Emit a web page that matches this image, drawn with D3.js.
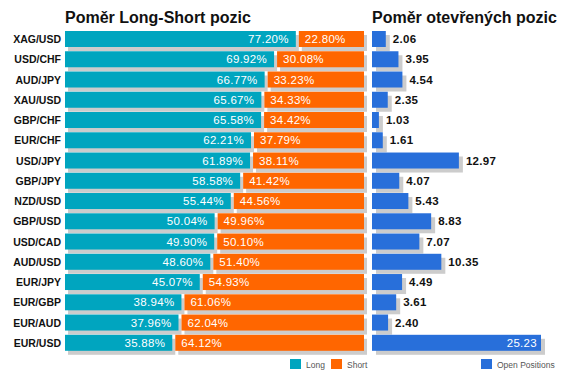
<!DOCTYPE html>
<html><head><meta charset="utf-8">
<script src="https://cdn.jsdelivr.net/npm/d3@7"></script>
<style>body{margin:0;background:#fff;} svg{display:block;font-family:Arial,"Liberation Sans",sans-serif;}</style>
</head><body>
<svg id="c" width="568" height="379"></svg>
<script>
const pairs = ["XAG/USD","USD/CHF","AUD/JPY","XAU/USD","GBP/CHF","EUR/CHF","USD/JPY","GBP/JPY","NZD/USD","GBP/USD","USD/CAD","AUD/USD","EUR/JPY","EUR/GBP","EUR/AUD","EUR/USD"];
const longPct = [77.20,69.92,66.77,65.67,65.58,62.21,61.89,58.58,55.44,50.04,49.90,48.60,45.07,38.94,37.96,35.88];
const shortPct = [22.80,30.08,33.23,34.33,34.42,37.79,38.11,41.42,44.56,49.96,50.10,51.40,54.93,61.06,62.04,64.12];
const openPos = [2.06,3.95,4.54,2.35,1.03,1.61,12.97,4.07,5.43,8.83,7.07,10.35,4.49,3.61,2.40,25.23];
const titles = ["Poměr Long-Short pozic","Poměr otevřených pozic"];
const legendLabels = ["Long","Short","Open Positions"];

const svg = d3.select("#c");
const C = {long:"#00a5bf", short:"#ff6600", open:"#286fda", shadow:"#cccccc"};
const y = d3.scaleBand().domain(pairs).range([31,351]).paddingInner(0.2).paddingOuter(0);
const bh = 16;
const xL = d3.scaleLinear().domain([0,100]).range([65,364]);
const xR = d3.scaleLinear().domain([0,25.23]).range([372,541]);
const gap = 3, sh = 3;

// titles
svg.append("text").attr("x",65).attr("y",22.5).attr("font-size",16).attr("font-weight","bold").attr("fill","#111").text(titles[0]);
svg.append("text").attr("x",372).attr("y",22.5).attr("font-size",16).attr("font-weight","bold").attr("fill","#111").text(titles[1]);

// category labels
svg.append("g").selectAll("text").data(pairs).join("text")
  .attr("x",61).attr("y",d=>y(d)+bh/2+4).attr("text-anchor","end")
  .attr("font-size",10.5).attr("font-weight","bold").attr("fill","#111").text(d=>d);

const rows = pairs.map((p,i)=>({p, l:longPct[i], s:shortPct[i], o:openPos[i]}));
const gL = svg.append("g");
// shadows
gL.selectAll(".shl").data(rows).join("rect")
  .attr("x",xL(0)+sh).attr("y",d=>y(d.p)+sh+1).attr("width",d=>xL(d.l)-xL(0)).attr("height",bh).attr("fill",C.shadow);
gL.selectAll(".shs").data(rows).join("rect")
  .attr("x",d=>xL(d.l)+gap+sh).attr("y",d=>y(d.p)+sh+1).attr("width",d=>xL(100)-xL(d.l)-gap).attr("height",bh).attr("fill",C.shadow);
gL.selectAll(".bl").data(rows).join("rect")
  .attr("x",xL(0)).attr("y",d=>y(d.p)).attr("width",d=>xL(d.l)-xL(0)).attr("height",bh).attr("fill",C.long);
gL.selectAll(".bs").data(rows).join("rect")
  .attr("x",d=>xL(d.l)+gap).attr("y",d=>y(d.p)).attr("width",d=>xL(100)-xL(d.l)-gap).attr("height",bh).attr("fill",C.short);
gL.selectAll(".tl").data(rows).join("text")
  .attr("x",d=>xL(d.l)-7).attr("y",d=>y(d.p)+bh/2+4).attr("text-anchor","end")
  .attr("font-size",11.5).attr("fill","#fff").attr("letter-spacing",0.3).text(d=>d.l.toFixed(2)+"%");
gL.selectAll(".ts").data(rows).join("text")
  .attr("x",d=>xL(d.l)+gap+6).attr("y",d=>y(d.p)+bh/2+4)
  .attr("font-size",11.5).attr("fill","#fff").attr("letter-spacing",0.3).text(d=>d.s.toFixed(2)+"%");

const gR = svg.append("g");
gR.selectAll(".sho").data(rows).join("rect")
  .attr("x",xR(0)+sh+1).attr("y",d=>y(d.p)+sh+1).attr("width",d=>xR(d.o)-xR(0)).attr("height",bh).attr("fill",C.shadow);
gR.selectAll(".bo").data(rows).join("rect")
  .attr("x",xR(0)).attr("y",d=>y(d.p)).attr("width",d=>xR(d.o)-xR(0)).attr("height",bh).attr("fill",C.open);
const maxO = d3.max(openPos);
gR.selectAll(".to").data(rows).join("text")
  .attr("x",d=>d.o===maxO ? xR(d.o)-4 : xR(d.o)+7)
  .attr("y",d=>y(d.p)+bh/2+4)
  .attr("text-anchor",d=>d.o===maxO?"end":"start")
  .attr("font-size",11.5).attr("font-weight",d=>d.o===maxO?"normal":"bold")
  .attr("fill",d=>d.o===maxO?"#fff":"#111").attr("letter-spacing",0.3)
  .text(d=>d.o.toFixed(2));

// legend
const leg = [{t:legendLabels[0],c:C.long,x:290},{t:legendLabels[1],c:C.short,x:331},{t:legendLabels[2],c:C.open,x:481}];
const gLeg = svg.append("g");
leg.forEach(d=>{
  gLeg.append("rect").attr("x",d.x).attr("y",359).attr("width",11).attr("height",10).attr("fill",d.c);
  gLeg.append("text").attr("x",d.x+16).attr("y",367.5).attr("font-size",8.5).attr("fill","#555").text(d.t);
});
</script>
</body></html>
